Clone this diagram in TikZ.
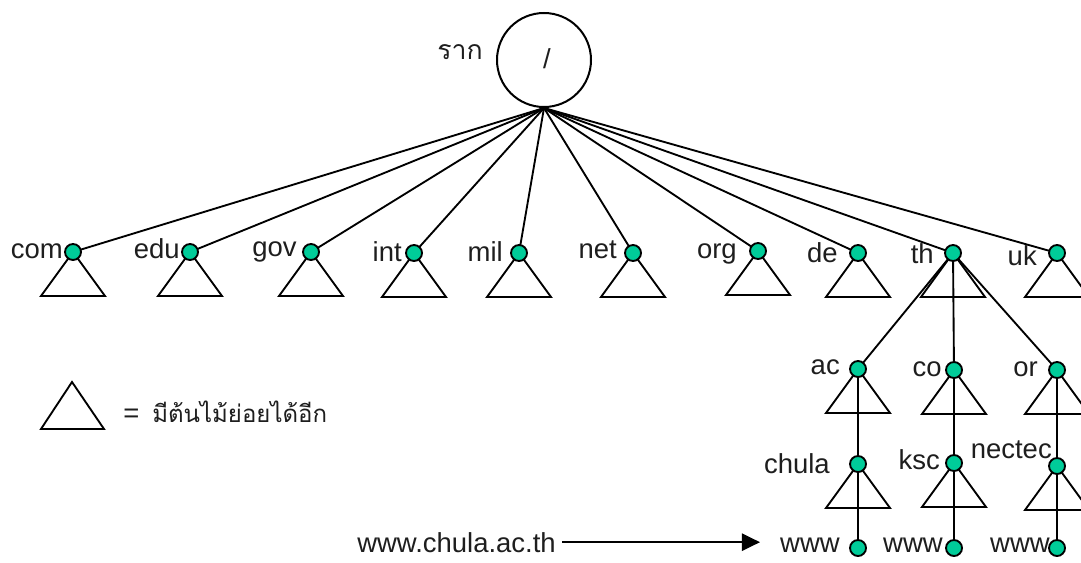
\documentclass[tikz,border=0pt]{standalone}
\usepackage{fontspec}
\setmainfont{Liberation Sans}
\newfontfamily\thaifont[Script=Thai]{Loma}
\usetikzlibrary{arrows.meta}
\pgfdeclarelayer{bg}
\pgfsetlayers{bg,main}
\definecolor{dotgreen}{RGB}{0,204,153}
\definecolor{txtgray}{RGB}{30,30,30}
\begin{document}
\begin{tikzpicture}[x=0.75pt,y=-0.75pt,
  dot/.style={circle,draw=black,fill=dotgreen,line width=1.4pt,minimum size=12pt,inner sep=0pt},
  lbl/.style={font=\fontsize{20.6}{24}\selectfont,text=txtgray,inner sep=0pt,anchor=base east},
  thlbl/.style={font=\thaifont\fontsize{20}{24}\selectfont,text=txtgray,inner sep=0pt},
  edge/.style={line width=1.4pt},
  tri/.style={line width=1.4pt}]
\useasboundingbox (0,0) rectangle (1081,563);
\clip (0,0) rectangle (1081,563);
% root
\node[circle,draw,line width=1.5pt,minimum size=70.5pt,inner sep=0pt] (root) at (544,60) {};
\node[lbl,anchor=base] (slash) at (547,69) {/};
\node[thlbl,anchor=base east] (rak) at (483,60) {ราก};
\coordinate (hub) at (root.south);
% dots
\foreach \n/\x/\y in {com/73/252,edu/190/252,gov/311/252,int/414/253,mil/519/253,net/633/253,org/758/251,de/858/253,th/953/253,uk/1057/253,
  ac/858/369,co/954/370,or/1057/370,chula/858/464,ksc/954/463,nectec/1057/466,wa/858/548,wb/954/548,wc/1057/548}
  \node[dot] (d-\n) at (\x,\y) {};
% labels
\foreach \n/\t/\x/\y in {com/com/63/258,edu/edu/180/258,gov/gov/297/256,int/int/402/261,mil/mil/503/261,net/net/617/258,org/org/737/258,
  de/de/838/262,th/th/934/263,uk/uk/1037/265,ac/ac/840/374,co/co/942/376,or/or/1038/376,chula/chula/830/473,ksc/ksc/940/469,
  nectec/nectec/1052/458,wa/www/840/552,wb/www/943/552,wc/www/1050/552}
  \node[lbl] (l-\n) at (\x,\y) {\t};
\node[lbl] (url) at (556,552) {www.chula.ac.th};
\coordinate (arrstart) at ([xshift=4.5pt]url.east);
\draw[line width=1.1pt,-{Triangle[length=13.5pt,width=13pt]}] (arrstart) -- ([xshift=-15pt]arrstart -| l-wa.west);
% legend
\node[lbl,anchor=base west] (eq) at (123,422) {=};
\node[thlbl,anchor=base west,font=\thaifont\fontsize{18}{22}\selectfont] (legtxt) at (152,422) {มีต้นไม้ย่อยได้อีก};
\draw[tri] (72,382) -- (104,429) -- (41,429) -- cycle;
\begin{pgfonlayer}{bg}
\foreach \n in {com,edu,gov,int,mil,net,org,de,th,uk}
  \draw[edge] (hub) -- (d-\n.center);
\foreach \n in {ac,co,or}
  \draw[edge] (d-th.center) -- (d-\n.center);
\draw[edge] (d-ac.center) -- (d-chula.center);
\draw[edge] (d-chula.center) -- (d-wa.center);
\draw[edge] (d-co.center) -- (d-ksc.center);
\draw[edge] (d-ksc.center) -- (d-wb.center);
\draw[edge] (d-or.center) -- (d-nectec.center);
\draw[edge] (d-nectec.center) -- (d-wc.center);
\foreach \n in {com,edu,gov,int,mil,net,org,de,th,uk,ac,co,or,chula,ksc,nectec}
  \draw[tri] (d-\n.center) -- ++(-32,44) -- ++(64,0) -- cycle;
\end{pgfonlayer}
\end{tikzpicture}
\end{document}
